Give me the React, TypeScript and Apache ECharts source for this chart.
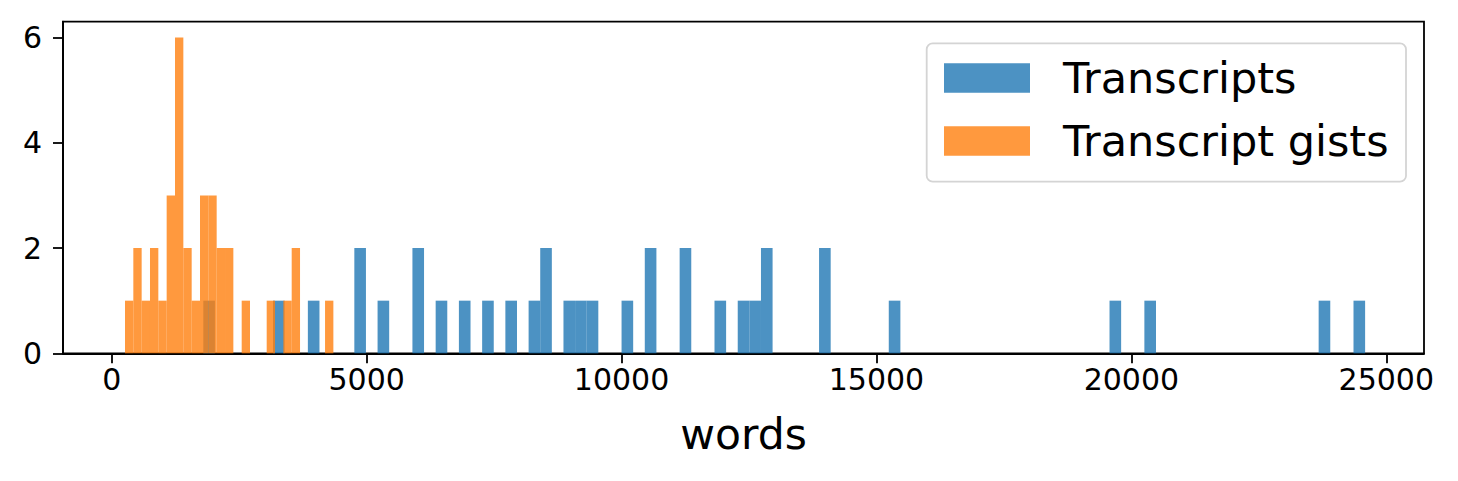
import React, { useEffect, useRef } from 'react'
import * as echarts from 'echarts'

// histogram bins (words)
const transcriptStart = 1795
const transcriptBinWidth = 227.9
const transcriptCounts = [
  1, 0, 0, 0, 0, 0, 1, 0, 0, 1,
  0, 0, 0, 2, 0, 1, 0, 0, 2, 0,
  1, 0, 1, 0, 1, 0, 1, 0, 1, 2,
  0, 1, 1, 1, 0, 0, 1, 0, 2, 0,
  0, 2, 0, 0, 1, 0, 1, 1, 2, 0,
  0, 0, 0, 2, 0, 0, 0, 0, 0, 1,
  0, 0, 0, 0, 0, 0, 0, 0, 0, 0,
  0, 0, 0, 0, 0, 0, 0, 0, 1, 0,
  0, 1, 0, 0, 0, 0, 0, 0, 0, 0,
  0, 0, 0, 0, 0, 0, 1, 0, 0, 1
]
const gistStart = 259
const gistBinWidth = 163.5
const gistCounts = [1, 2, 1, 2, 1, 3, 6, 2, 1, 3, 3, 2, 2, 0, 1, 0, 0, 1, 0, 1, 2, 0, 0, 0, 1]

const seriesNames = ['Transcripts', 'Transcript gists']
const xTicks = [0, 5000, 10000, 15000, 20000, 25000]
const yTicks = [0, 2, 4, 6]

const FONT = 'DejaVu Sans'
const BLUE = 'rgba(31,119,180,0.8)'
const ORANGE = 'rgba(255,127,14,0.8)'

const toBins = (start: number, width: number, counts: number[]) =>
  counts
    .map((c, i) => [start + i * width, start + (i + 1) * width, c])
    .filter((d) => d[2] > 0)

export default function App() {
  const chartRef: any = useRef()

  useEffect(() => {
    document.body.style.margin = '0'
    const myChart = echarts.init(chartRef.current, null, { renderer: 'svg' })

    const makeSeries = (name: string, data: any, color: string) => ({
      name,
      type: 'custom',
      data,
      encode: { x: [0, 1], y: 2 },
      renderItem: (params: any, api: any) => {
        const p0 = api.coord([api.value(0), api.value(2)])
        const p1 = api.coord([api.value(1), 0])
        return {
          type: 'rect',
          shape: { x: p0[0], y: p0[1], width: p1[0] - p0[0], height: p1[1] - p0[1] },
          style: { fill: color }
        }
      }
    })

    const axisLine = { show: true, onZero: false, lineStyle: { color: '#000', width: 1.8 } }
    const tickStyle = { color: '#000', width: 1.8 }

    const option = {
      animation: false,
      grid: {
        left: 63,
        top: 21.7,
        width: 1361,
        height: 331.6,
        show: true,
        borderColor: '#000',
        borderWidth: 1.8,
        backgroundColor: 'transparent'
      },
      xAxis: {
        type: 'value',
        min: -957,
        max: 25740,
        splitLine: { show: false },
        axisLine,
        axisTick: { show: true, length: 10, lineStyle: tickStyle, customValues: xTicks },
        axisLabel: {
          color: '#000',
          fontFamily: FONT,
          fontSize: 30,
          margin: 11,
          customValues: xTicks,
          formatter: (v: number) => String(v)
        },
        name: 'words',
        nameLocation: 'middle',
        nameGap: 60,
        nameTextStyle: { color: '#000', fontFamily: FONT, fontSize: 42.5 }
      },
      yAxis: {
        type: 'value',
        min: 0,
        max: 6.3,
        splitLine: { show: false },
        axisLine,
        axisTick: { show: true, length: 10, lineStyle: tickStyle, customValues: yTicks },
        axisLabel: {
          color: '#000',
          fontFamily: FONT,
          fontSize: 30,
          margin: 21,
          customValues: yTicks,
          formatter: (v: number) => String(v)
        }
      },
      series: [
        makeSeries(seriesNames[0], toBins(transcriptStart, transcriptBinWidth, transcriptCounts), BLUE),
        makeSeries(seriesNames[1], toBins(gistStart, gistBinWidth, gistCounts), ORANGE)
      ],
      graphic: [
        {
          type: 'rect',
          z: 100,
          shape: { x: 926.7, y: 43.3, width: 479.3, height: 138.4, r: 6 },
          style: { fill: 'rgba(255,255,255,0.8)', stroke: '#d4d4d4', lineWidth: 1.8 }
        },
        {
          type: 'rect',
          z: 101,
          shape: { x: 944, y: 63.3, width: 86, height: 29.4 },
          style: { fill: BLUE }
        },
        {
          type: 'rect',
          z: 101,
          shape: { x: 944, y: 126.3, width: 86, height: 29.4 },
          style: { fill: ORANGE }
        },
        {
          type: 'text',
          z: 101,
          x: 1063,
          y: 78,
          style: { text: seriesNames[0], fill: '#000', font: `43px "${FONT}"`, verticalAlign: 'middle' }
        },
        {
          type: 'text',
          z: 101,
          x: 1063,
          y: 141,
          style: { text: seriesNames[1], fill: '#000', font: `43px "${FONT}"`, verticalAlign: 'middle' }
        }
      ]
    }
    myChart.setOption(option)
    return () => {
      myChart.dispose()
    }
  }, [])

  return <div style={{ width: '1458px', height: '481px' }} ref={chartRef} />
}
